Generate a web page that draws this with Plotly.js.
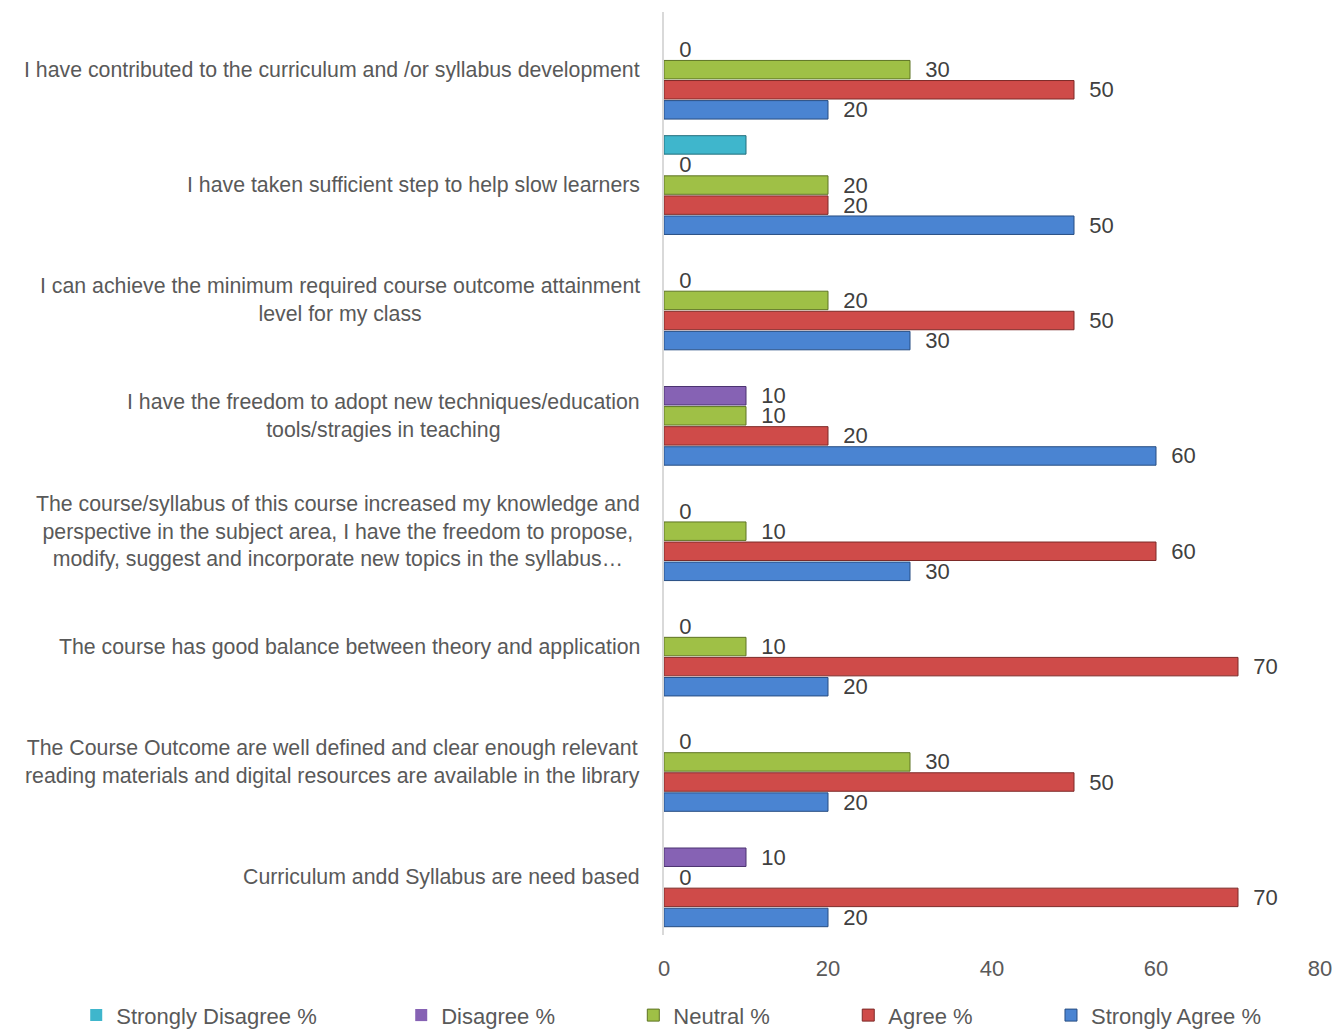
<!DOCTYPE html>
<html>
<head>
<meta charset="utf-8">
<script src="https://cdn.plot.ly/plotly-3.0.1.min.js"></script>
<style>
  html, body { margin: 0; padding: 0; background: #fff; }
  #chart { width: 1336px; height: 1030px; }
</style>
</head>
<body>
<div id="chart"></div>
<script>
// questions, top to bottom as they appear
const questions = [
    'I have contributed to the curriculum and /or syllabus development',
    'I have taken sufficient step to help slow learners',
    'I can achieve the minimum required course outcome attainment<br>level for my class',
    'I have the freedom to adopt new techniques/education<br>tools/stragies in teaching',
    'The course/syllabus of this course increased my knowledge and<br>perspective in the subject area, I have the freedom to propose,<br>modify, suggest and incorporate new topics in the syllabus…',
    'The course has good balance between theory and application',
    'The Course Outcome are well defined and clear enough relevant<br>reading materials and digital resources are available in the library',
    'Curriculum andd Syllabus are need based',
];

const strongly_disagree = [null, 10, null, null, null, null, null, null];
const disagree = [0, 0, 0, 10, 0, 0, 0, 10];
const neutral = [30, 20, 20, 10, 10, 10, 30, 0];
const agree = [50, 20, 50, 20, 60, 70, 50, 70];
const strongly_agree = [20, 50, 30, 60, 30, 20, 20, 20];

const series_names = ['Strongly Disagree %', 'Disagree %', 'Neutral %', 'Agree %', 'Strongly Agree %'];
const series_values = [strongly_disagree, disagree, neutral, agree, strongly_agree];
const series_colors = ['#3fb6cc', '#8662b4', '#9fc046', '#cf4b49', '#4a84d2'];
const series_lines = ['#236f7d', '#4b3370', '#5e7424', '#7d2a28', '#274d82'];
const series_labels = [false, true, true, true, true];
const legend_pad = [13, 12, 12, 12, 0];

const font = '"Liberation Sans", Arial, sans-serif';
const nb = '\u00a0';

const data = series_names.map((name, i) => ({
    type: 'bar',
    orientation: 'h',
    name: name + nb.repeat(legend_pad[i]),
    y: questions,
    x: series_values[i],
    marker: {
        color: series_colors[i],
        line: {color: series_lines[i], width: series_values[i].map(v => v ? 1 : 0)},
    },
    text: series_labels[i] ? series_values[i].map(v => v === null ? '' : nb.repeat(2) + v) : null,
    textposition: series_labels[i] ? 'outside' : 'none',
    constraintext: 'none',
    cliponaxis: false,
    textfont: {family: font, size: 22, color: '#404040'},
    hoverinfo: 'x+name',
}));

const annotations = questions.map(q => ({
    x: 0, xref: 'x', y: q, yref: 'y',
    xanchor: 'right', xshift: -22,
    align: 'center',
    text: q,
    showarrow: false,
    font: {family: font, size: 21.3, color: '#595959'},
}));

const layout = {
    width: 1336,
    height: 1030,
    margin: {l: 664, r: 16, t: 12, b: 95, autoexpand: false},
    paper_bgcolor: '#ffffff',
    plot_bgcolor: '#ffffff',
    barmode: 'group',
    bargap: 0.13,
    bargroupgap: 0.08,
    showlegend: true,
    legend: {
        orientation: 'h',
        x: -0.896, xanchor: 'left',
        y: -0.087, yanchor: 'middle',
        bgcolor: 'rgba(0,0,0,0)',
        font: {family: font, size: 22, color: '#595959'},
        traceorder: 'normal',
    },
    xaxis: {
        range: [0, 80],
        tickvals: [0, 20, 40, 60, 80],
        showgrid: false,
        zeroline: false,
        showline: false,
        ticks: '',
        ticklabelstandoff: 18,
        tickfont: {family: font, size: 22, color: '#595959'},
    },
    yaxis: {
        type: 'category',
        autorange: 'reversed',
        showticklabels: false,
        showgrid: false,
        zeroline: false,
        showline: true,
        linecolor: '#d9d9d9',
        linewidth: 2,
        ticks: '',
    },
    annotations,
};

Plotly.newPlot('chart', data, layout, {displayModeBar: false});
</script>
</body>
</html>
